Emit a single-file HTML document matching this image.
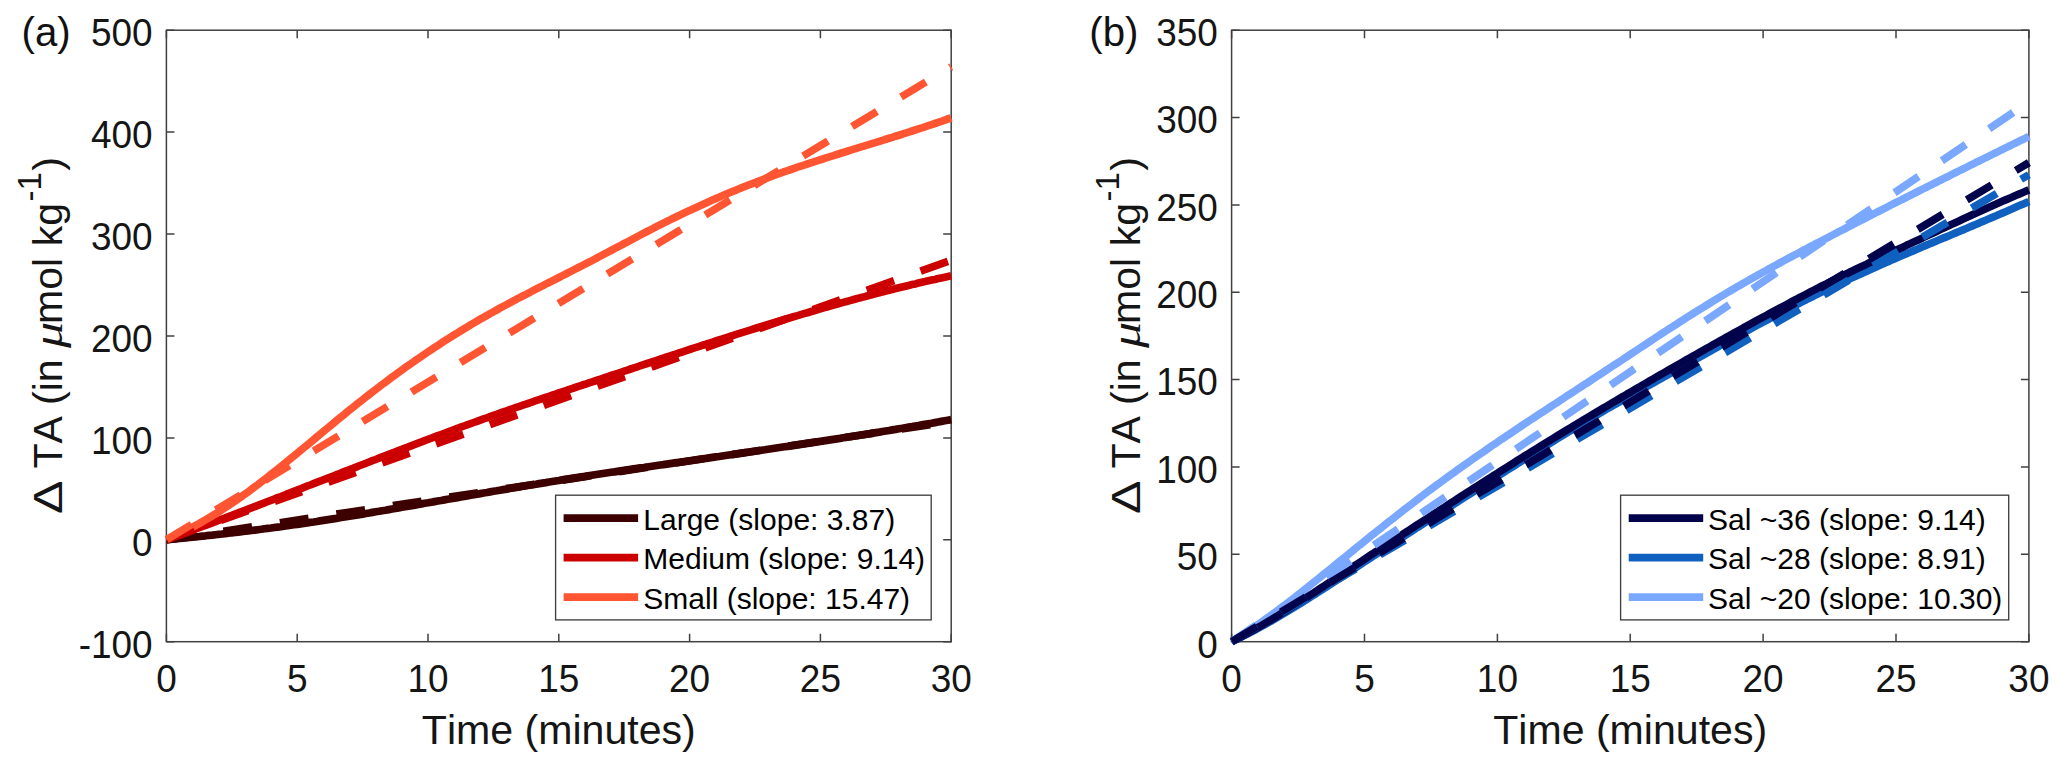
<!DOCTYPE html><html><head><meta charset="utf-8"><title>Delta TA over time</title>
<style>html,body{margin:0;padding:0;background:#fff}svg{display:block}text{font-family:"Liberation Sans", sans-serif;font-kerning:none}</style></head><body>
<svg width="2067" height="767" viewBox="0 0 2067 767">
<rect width="2067" height="767" fill="#fff"/>
<defs><clipPath id="ca"><rect x="162.4" y="29.2" width="792.3" height="616.5"/></clipPath><clipPath id="cb"><rect x="1227.6" y="29.2" width="804.8" height="616.5"/></clipPath></defs>
<rect x="166.4" y="30.2" width="784.8" height="611.5" fill="none" stroke="#404040" stroke-width="1.5"/>
<path d="M166.4 641.7v-8 M166.4 30.2v8 M297.2 641.7v-8 M297.2 30.2v8 M428.0 641.7v-8 M428.0 30.2v8 M558.8 641.7v-8 M558.8 30.2v8 M689.6 641.7v-8 M689.6 30.2v8 M820.4 641.7v-8 M820.4 30.2v8 M951.2 641.7v-8 M951.2 30.2v8 M166.4 641.7h8 M951.2 641.7h-8 M166.4 539.8h8 M951.2 539.8h-8 M166.4 437.9h8 M951.2 437.9h-8 M166.4 336.0h8 M951.2 336.0h-8 M166.4 234.0h8 M951.2 234.0h-8 M166.4 132.1h8 M951.2 132.1h-8 M166.4 30.2h8 M951.2 30.2h-8 " stroke="#404040" stroke-width="1.5" fill="none"/>
<text transform="translate(166.4 692.4) scale(0.975 1)" font-size="37.90" fill="#151515" text-anchor="middle">0</text>
<text transform="translate(297.2 692.4) scale(0.975 1)" font-size="37.90" fill="#151515" text-anchor="middle">5</text>
<text transform="translate(428.0 692.4) scale(0.975 1)" font-size="37.90" fill="#151515" text-anchor="middle">10</text>
<text transform="translate(558.8 692.4) scale(0.975 1)" font-size="37.90" fill="#151515" text-anchor="middle">15</text>
<text transform="translate(689.6 692.4) scale(0.975 1)" font-size="37.90" fill="#151515" text-anchor="middle">20</text>
<text transform="translate(820.4 692.4) scale(0.975 1)" font-size="37.90" fill="#151515" text-anchor="middle">25</text>
<text transform="translate(951.2 692.4) scale(0.975 1)" font-size="37.90" fill="#151515" text-anchor="middle">30</text>
<text transform="translate(152.6 657.5) scale(0.975 1)" font-size="37.90" fill="#151515" text-anchor="end">-100</text>
<text transform="translate(152.6 555.6) scale(0.975 1)" font-size="37.90" fill="#151515" text-anchor="end">0</text>
<text transform="translate(152.6 453.7) scale(0.975 1)" font-size="37.90" fill="#151515" text-anchor="end">100</text>
<text transform="translate(152.6 351.8) scale(0.975 1)" font-size="37.90" fill="#151515" text-anchor="end">200</text>
<text transform="translate(152.6 249.8) scale(0.975 1)" font-size="37.90" fill="#151515" text-anchor="end">300</text>
<text transform="translate(152.6 147.9) scale(0.975 1)" font-size="37.90" fill="#151515" text-anchor="end">400</text>
<text transform="translate(152.6 46.0) scale(0.975 1)" font-size="37.90" fill="#151515" text-anchor="end">500</text>
<text x="558.8" y="743.9" font-size="41.10" fill="#151515" text-anchor="middle">Time (minutes)</text>
<g transform="translate(61.7 0) rotate(-90)" font-size="41.10" fill="#151515"><text transform="translate(-514.1 0) scale(1.22 1)">Δ</text><text x="-468.5" y="0" >TA</text><text x="-405.0" y="0" >(in</text><text transform="translate(-348.0 0) scale(1.27 1)" style="font-style:italic;font-family:'Liberation Serif',serif">μ</text><text x="-324.0" y="0" >mol kg</text><text x="-201.5" y="0" font-size="32.88" dy="-20.6">-1</text><text x="-170.7" y="0" >)</text></g>
<text x="21.6" y="45.7" font-size="40.2" fill="#111">(a)</text>
<g clip-path="url(#ca)">
<path d="M166.4 539.8 L169.7 539.5 L172.9 539.1 L176.2 538.8 L179.5 538.5 L182.8 538.1 L186.0 537.8 L189.3 537.5 L192.6 537.1 L195.8 536.8 L199.1 536.5 L202.4 536.1 L205.6 535.8 L208.9 535.4 L212.2 535.1 L215.5 534.7 L218.7 534.3 L222.0 534.0 L225.3 533.6 L228.5 533.2 L231.8 532.8 L235.1 532.5 L238.3 532.1 L241.6 531.7 L244.9 531.3 L248.2 530.9 L251.4 530.5 L254.7 530.1 L258.0 529.7 L261.2 529.3 L264.5 528.8 L267.8 528.4 L271.0 528.0 L274.3 527.5 L277.6 527.1 L280.9 526.7 L284.1 526.2 L287.4 525.8 L290.7 525.3 L293.9 524.8 L297.2 524.4 L300.5 523.9 L303.7 523.4 L307.0 522.9 L310.3 522.4 L313.6 522.0 L316.8 521.5 L320.1 520.9 L323.4 520.4 L326.6 519.9 L329.9 519.4 L333.2 518.9 L336.4 518.4 L339.7 517.8 L343.0 517.3 L346.2 516.8 L349.5 516.2 L352.8 515.7 L356.1 515.2 L359.3 514.6 L362.6 514.1 L365.9 513.5 L369.1 513.0 L372.4 512.4 L375.7 511.8 L379.0 511.3 L382.2 510.7 L385.5 510.2 L388.8 509.6 L392.0 509.0 L395.3 508.5 L398.6 507.9 L401.8 507.3 L405.1 506.8 L408.4 506.2 L411.7 505.6 L414.9 505.1 L418.2 504.5 L421.5 503.9 L424.7 503.3 L428.0 502.8 L431.3 502.2 L434.5 501.6 L437.8 501.0 L441.1 500.5 L444.4 499.9 L447.6 499.3 L450.9 498.7 L454.2 498.2 L457.4 497.6 L460.7 497.0 L464.0 496.4 L467.2 495.9 L470.5 495.3 L473.8 494.7 L477.0 494.2 L480.3 493.6 L483.6 493.0 L486.9 492.5 L490.1 491.9 L493.4 491.3 L496.7 490.8 L499.9 490.2 L503.2 489.6 L506.5 489.1 L509.8 488.5 L513.0 488.0 L516.3 487.4 L519.6 486.9 L522.8 486.3 L526.1 485.8 L529.4 485.2 L532.6 484.7 L535.9 484.2 L539.2 483.6 L542.5 483.1 L545.7 482.6 L549.0 482.0 L552.3 481.5 L555.5 481.0 L558.8 480.5 L562.1 479.9 L565.3 479.4 L568.6 478.9 L571.9 478.4 L575.2 477.9 L578.4 477.4 L581.7 476.9 L585.0 476.4 L588.2 475.8 L591.5 475.3 L594.8 474.8 L598.0 474.3 L601.3 473.8 L604.6 473.3 L607.9 472.8 L611.1 472.3 L614.4 471.9 L617.7 471.4 L620.9 470.9 L624.2 470.4 L627.5 469.9 L630.7 469.4 L634.0 468.9 L637.3 468.4 L640.6 467.9 L643.8 467.5 L647.1 467.0 L650.4 466.5 L653.6 466.0 L656.9 465.5 L660.2 465.0 L663.4 464.6 L666.7 464.1 L670.0 463.6 L673.3 463.1 L676.5 462.6 L679.8 462.2 L683.1 461.7 L686.3 461.2 L689.6 460.7 L692.9 460.3 L696.1 459.8 L699.4 459.3 L702.7 458.8 L706.0 458.4 L709.2 457.9 L712.5 457.4 L715.8 456.9 L719.0 456.5 L722.3 456.0 L725.6 455.5 L728.8 455.0 L732.1 454.6 L735.4 454.1 L738.6 453.6 L741.9 453.1 L745.2 452.6 L748.5 452.2 L751.7 451.7 L755.0 451.2 L758.3 450.7 L761.5 450.2 L764.8 449.8 L768.1 449.3 L771.4 448.8 L774.6 448.3 L777.9 447.8 L781.2 447.3 L784.4 446.8 L787.7 446.4 L791.0 445.9 L794.2 445.4 L797.5 444.9 L800.8 444.4 L804.0 443.9 L807.3 443.4 L810.6 442.9 L813.9 442.4 L817.1 441.9 L820.4 441.4 L823.7 440.9 L826.9 440.4 L830.2 439.9 L833.5 439.4 L836.8 438.9 L840.0 438.4 L843.3 437.8 L846.6 437.3 L849.8 436.8 L853.1 436.3 L856.4 435.8 L859.6 435.3 L862.9 434.7 L866.2 434.2 L869.5 433.7 L872.7 433.1 L876.0 432.6 L879.3 432.1 L882.5 431.5 L885.8 431.0 L889.1 430.5 L892.3 429.9 L895.6 429.4 L898.9 428.8 L902.2 428.3 L905.4 427.7 L908.7 427.1 L912.0 426.6 L915.2 426.0 L918.5 425.5 L921.8 424.9 L925.0 424.3 L928.3 423.7 L931.6 423.2 L934.9 422.6 L938.1 422.0 L941.4 421.4 L944.7 420.8 L947.9 420.2 L951.2 419.6" fill="none" stroke="#3d0000" stroke-width="7.70" stroke-linejoin="round"/>
<path d="M166.4 539.8 L169.7 538.6 L172.9 537.4 L176.2 536.2 L179.5 535.0 L182.8 533.8 L186.0 532.6 L189.3 531.4 L192.6 530.2 L195.8 529.0 L199.1 527.7 L202.4 526.5 L205.6 525.3 L208.9 524.1 L212.2 522.8 L215.5 521.6 L218.7 520.3 L222.0 519.1 L225.3 517.9 L228.5 516.6 L231.8 515.4 L235.1 514.1 L238.3 512.9 L241.6 511.6 L244.9 510.4 L248.2 509.1 L251.4 507.9 L254.7 506.6 L258.0 505.3 L261.2 504.1 L264.5 502.8 L267.8 501.5 L271.0 500.3 L274.3 499.0 L277.6 497.7 L280.9 496.5 L284.1 495.2 L287.4 493.9 L290.7 492.6 L293.9 491.4 L297.2 490.1 L300.5 488.8 L303.7 487.5 L307.0 486.2 L310.3 485.0 L313.6 483.7 L316.8 482.4 L320.1 481.1 L323.4 479.9 L326.6 478.6 L329.9 477.3 L333.2 476.0 L336.4 474.7 L339.7 473.5 L343.0 472.2 L346.2 470.9 L349.5 469.6 L352.8 468.4 L356.1 467.1 L359.3 465.8 L362.6 464.5 L365.9 463.3 L369.1 462.0 L372.4 460.7 L375.7 459.5 L379.0 458.2 L382.2 456.9 L385.5 455.7 L388.8 454.4 L392.0 453.1 L395.3 451.9 L398.6 450.6 L401.8 449.4 L405.1 448.1 L408.4 446.9 L411.7 445.6 L414.9 444.4 L418.2 443.1 L421.5 441.9 L424.7 440.6 L428.0 439.4 L431.3 438.2 L434.5 436.9 L437.8 435.7 L441.1 434.5 L444.4 433.3 L447.6 432.1 L450.9 430.8 L454.2 429.6 L457.4 428.4 L460.7 427.2 L464.0 426.0 L467.2 424.8 L470.5 423.7 L473.8 422.5 L477.0 421.3 L480.3 420.1 L483.6 418.9 L486.9 417.8 L490.1 416.6 L493.4 415.4 L496.7 414.3 L499.9 413.1 L503.2 412.0 L506.5 410.9 L509.8 409.7 L513.0 408.6 L516.3 407.4 L519.6 406.3 L522.8 405.2 L526.1 404.1 L529.4 403.0 L532.6 401.8 L535.9 400.7 L539.2 399.6 L542.5 398.5 L545.7 397.4 L549.0 396.3 L552.3 395.2 L555.5 394.1 L558.8 393.0 L562.1 391.9 L565.3 390.8 L568.6 389.7 L571.9 388.6 L575.2 387.5 L578.4 386.4 L581.7 385.3 L585.0 384.3 L588.2 383.2 L591.5 382.1 L594.8 381.0 L598.0 379.9 L601.3 378.8 L604.6 377.7 L607.9 376.6 L611.1 375.5 L614.4 374.4 L617.7 373.4 L620.9 372.3 L624.2 371.2 L627.5 370.1 L630.7 369.0 L634.0 367.9 L637.3 366.8 L640.6 365.7 L643.8 364.6 L647.1 363.5 L650.4 362.5 L653.6 361.4 L656.9 360.3 L660.2 359.2 L663.4 358.1 L666.7 357.0 L670.0 356.0 L673.3 354.9 L676.5 353.8 L679.8 352.7 L683.1 351.7 L686.3 350.6 L689.6 349.5 L692.9 348.4 L696.1 347.4 L699.4 346.3 L702.7 345.2 L706.0 344.2 L709.2 343.1 L712.5 342.1 L715.8 341.0 L719.0 339.9 L722.3 338.9 L725.6 337.8 L728.8 336.8 L732.1 335.8 L735.4 334.7 L738.6 333.7 L741.9 332.6 L745.2 331.6 L748.5 330.6 L751.7 329.6 L755.0 328.5 L758.3 327.5 L761.5 326.5 L764.8 325.5 L768.1 324.5 L771.4 323.5 L774.6 322.5 L777.9 321.5 L781.2 320.5 L784.4 319.5 L787.7 318.5 L791.0 317.5 L794.2 316.5 L797.5 315.6 L800.8 314.6 L804.0 313.6 L807.3 312.7 L810.6 311.7 L813.9 310.8 L817.1 309.8 L820.4 308.9 L823.7 307.9 L826.9 307.0 L830.2 306.1 L833.5 305.1 L836.8 304.2 L840.0 303.3 L843.3 302.4 L846.6 301.5 L849.8 300.6 L853.1 299.7 L856.4 298.8 L859.6 297.9 L862.9 297.1 L866.2 296.2 L869.5 295.3 L872.7 294.5 L876.0 293.6 L879.3 292.8 L882.5 291.9 L885.8 291.1 L889.1 290.3 L892.3 289.4 L895.6 288.6 L898.9 287.8 L902.2 287.0 L905.4 286.2 L908.7 285.4 L912.0 284.6 L915.2 283.9 L918.5 283.1 L921.8 282.3 L925.0 281.6 L928.3 280.8 L931.6 280.1 L934.9 279.4 L938.1 278.6 L941.4 277.9 L944.7 277.2 L947.9 276.5 L951.2 275.8" fill="none" stroke="#cc0000" stroke-width="7.70" stroke-linejoin="round"/>
<path d="M166.4 539.8 L169.7 538.4 L172.9 536.9 L176.2 535.4 L179.5 533.8 L182.8 532.2 L186.0 530.6 L189.3 528.9 L192.6 527.2 L195.8 525.4 L199.1 523.6 L202.4 521.7 L205.6 519.8 L208.9 517.9 L212.2 515.9 L215.5 513.9 L218.7 511.9 L222.0 509.8 L225.3 507.6 L228.5 505.5 L231.8 503.3 L235.1 501.0 L238.3 498.8 L241.6 496.5 L244.9 494.1 L248.2 491.8 L251.4 489.4 L254.7 486.9 L258.0 484.5 L261.2 482.0 L264.5 479.5 L267.8 476.9 L271.0 474.4 L274.3 471.8 L277.6 469.2 L280.9 466.6 L284.1 463.9 L287.4 461.3 L290.7 458.6 L293.9 456.0 L297.2 453.3 L300.5 450.6 L303.7 447.9 L307.0 445.2 L310.3 442.5 L313.6 439.7 L316.8 437.0 L320.1 434.3 L323.4 431.6 L326.6 428.9 L329.9 426.2 L333.2 423.5 L336.4 420.8 L339.7 418.1 L343.0 415.4 L346.2 412.8 L349.5 410.1 L352.8 407.5 L356.1 404.8 L359.3 402.2 L362.6 399.7 L365.9 397.1 L369.1 394.6 L372.4 392.0 L375.7 389.5 L379.0 387.0 L382.2 384.5 L385.5 382.1 L388.8 379.6 L392.0 377.2 L395.3 374.8 L398.6 372.4 L401.8 370.1 L405.1 367.7 L408.4 365.4 L411.7 363.1 L414.9 360.8 L418.2 358.6 L421.5 356.3 L424.7 354.1 L428.0 351.9 L431.3 349.7 L434.5 347.5 L437.8 345.4 L441.1 343.2 L444.4 341.1 L447.6 339.0 L450.9 336.9 L454.2 334.9 L457.4 332.9 L460.7 330.9 L464.0 328.9 L467.2 326.9 L470.5 324.9 L473.8 323.0 L477.0 321.1 L480.3 319.2 L483.6 317.3 L486.9 315.5 L490.1 313.6 L493.4 311.8 L496.7 310.0 L499.9 308.2 L503.2 306.4 L506.5 304.7 L509.8 302.9 L513.0 301.2 L516.3 299.4 L519.6 297.7 L522.8 296.0 L526.1 294.3 L529.4 292.6 L532.6 290.9 L535.9 289.2 L539.2 287.5 L542.5 285.9 L545.7 284.2 L549.0 282.5 L552.3 280.8 L555.5 279.2 L558.8 277.5 L562.1 275.8 L565.3 274.2 L568.6 272.5 L571.9 270.9 L575.2 269.2 L578.4 267.5 L581.7 265.8 L585.0 264.1 L588.2 262.5 L591.5 260.8 L594.8 259.1 L598.0 257.3 L601.3 255.6 L604.6 253.9 L607.9 252.2 L611.1 250.5 L614.4 248.7 L617.7 247.0 L620.9 245.3 L624.2 243.5 L627.5 241.8 L630.7 240.1 L634.0 238.3 L637.3 236.6 L640.6 234.9 L643.8 233.2 L647.1 231.5 L650.4 229.8 L653.6 228.1 L656.9 226.4 L660.2 224.8 L663.4 223.1 L666.7 221.5 L670.0 219.9 L673.3 218.3 L676.5 216.7 L679.8 215.1 L683.1 213.5 L686.3 212.0 L689.6 210.4 L692.9 208.9 L696.1 207.4 L699.4 205.9 L702.7 204.4 L706.0 202.9 L709.2 201.5 L712.5 200.0 L715.8 198.6 L719.0 197.2 L722.3 195.8 L725.6 194.4 L728.8 193.0 L732.1 191.6 L735.4 190.3 L738.6 189.0 L741.9 187.6 L745.2 186.3 L748.5 185.0 L751.7 183.8 L755.0 182.5 L758.3 181.3 L761.5 180.0 L764.8 178.8 L768.1 177.6 L771.4 176.4 L774.6 175.2 L777.9 174.0 L781.2 172.9 L784.4 171.7 L787.7 170.6 L791.0 169.5 L794.2 168.4 L797.5 167.2 L800.8 166.1 L804.0 165.1 L807.3 164.0 L810.6 162.9 L813.9 161.8 L817.1 160.8 L820.4 159.7 L823.7 158.7 L826.9 157.6 L830.2 156.6 L833.5 155.6 L836.8 154.5 L840.0 153.5 L843.3 152.5 L846.6 151.5 L849.8 150.4 L853.1 149.4 L856.4 148.4 L859.6 147.4 L862.9 146.4 L866.2 145.4 L869.5 144.4 L872.7 143.4 L876.0 142.4 L879.3 141.3 L882.5 140.3 L885.8 139.3 L889.1 138.3 L892.3 137.3 L895.6 136.2 L898.9 135.2 L902.2 134.2 L905.4 133.1 L908.7 132.1 L912.0 131.0 L915.2 130.0 L918.5 128.9 L921.8 127.9 L925.0 126.8 L928.3 125.7 L931.6 124.6 L934.9 123.5 L938.1 122.4 L941.4 121.3 L944.7 120.1 L947.9 119.0 L951.2 117.8" fill="none" stroke="#ff5533" stroke-width="7.70" stroke-linejoin="round"/>
<path d="M166.4 539.8 L951.2 421.5" fill="none" stroke="#3d0000" stroke-width="7.70" stroke-dasharray="29 28.15" stroke-dashoffset="-0.5"/>
<path d="M166.4 539.8 L951.2 260.3" fill="none" stroke="#cc0000" stroke-width="7.70" stroke-dasharray="29 28.15" stroke-dashoffset="-0.5"/>
<path d="M166.4 539.8 L951.2 66.8" fill="none" stroke="#ff5533" stroke-width="7.70" stroke-dasharray="29 28.15" stroke-dashoffset="-0.5"/>
</g>
<rect x="555.6" y="495.2" width="375.6" height="124.7" fill="#fff" stroke="#404040" stroke-width="1.35"/>
<path d="M563.6 518.2H638.1" stroke="#3d0000" stroke-width="7.70"/>
<text x="643.3" y="529.8" font-size="30.00" fill="#000">Large (slope: 3.87)</text>
<path d="M563.6 557.7H638.1" stroke="#cc0000" stroke-width="7.70"/>
<text x="643.3" y="569.3" font-size="30.00" fill="#000">Medium (slope: 9.14)</text>
<path d="M563.6 597.1H638.1" stroke="#ff5533" stroke-width="7.70"/>
<text x="643.3" y="608.7" font-size="30.00" fill="#000">Small (slope: 15.47)</text>
<rect x="1231.6" y="30.2" width="797.3" height="611.5" fill="none" stroke="#404040" stroke-width="1.5"/>
<path d="M1231.6 641.7v-8 M1231.6 30.2v8 M1364.5 641.7v-8 M1364.5 30.2v8 M1497.4 641.7v-8 M1497.4 30.2v8 M1630.2 641.7v-8 M1630.2 30.2v8 M1763.1 641.7v-8 M1763.1 30.2v8 M1896.0 641.7v-8 M1896.0 30.2v8 M2028.9 641.7v-8 M2028.9 30.2v8 M1231.6 641.7h8 M2028.9 641.7h-8 M1231.6 554.3h8 M2028.9 554.3h-8 M1231.6 467.0h8 M2028.9 467.0h-8 M1231.6 379.6h8 M2028.9 379.6h-8 M1231.6 292.3h8 M2028.9 292.3h-8 M1231.6 204.9h8 M2028.9 204.9h-8 M1231.6 117.6h8 M2028.9 117.6h-8 M1231.6 30.2h8 M2028.9 30.2h-8 " stroke="#404040" stroke-width="1.5" fill="none"/>
<text transform="translate(1231.6 692.4) scale(0.975 1)" font-size="37.90" fill="#151515" text-anchor="middle">0</text>
<text transform="translate(1364.5 692.4) scale(0.975 1)" font-size="37.90" fill="#151515" text-anchor="middle">5</text>
<text transform="translate(1497.4 692.4) scale(0.975 1)" font-size="37.90" fill="#151515" text-anchor="middle">10</text>
<text transform="translate(1630.2 692.4) scale(0.975 1)" font-size="37.90" fill="#151515" text-anchor="middle">15</text>
<text transform="translate(1763.1 692.4) scale(0.975 1)" font-size="37.90" fill="#151515" text-anchor="middle">20</text>
<text transform="translate(1896.0 692.4) scale(0.975 1)" font-size="37.90" fill="#151515" text-anchor="middle">25</text>
<text transform="translate(2028.9 692.4) scale(0.975 1)" font-size="37.90" fill="#151515" text-anchor="middle">30</text>
<text transform="translate(1217.8 657.5) scale(0.975 1)" font-size="37.90" fill="#151515" text-anchor="end">0</text>
<text transform="translate(1217.8 570.1) scale(0.975 1)" font-size="37.90" fill="#151515" text-anchor="end">50</text>
<text transform="translate(1217.8 482.8) scale(0.975 1)" font-size="37.90" fill="#151515" text-anchor="end">100</text>
<text transform="translate(1217.8 395.4) scale(0.975 1)" font-size="37.90" fill="#151515" text-anchor="end">150</text>
<text transform="translate(1217.8 308.1) scale(0.975 1)" font-size="37.90" fill="#151515" text-anchor="end">200</text>
<text transform="translate(1217.8 220.7) scale(0.975 1)" font-size="37.90" fill="#151515" text-anchor="end">250</text>
<text transform="translate(1217.8 133.4) scale(0.975 1)" font-size="37.90" fill="#151515" text-anchor="end">300</text>
<text transform="translate(1217.8 46.0) scale(0.975 1)" font-size="37.90" fill="#151515" text-anchor="end">350</text>
<text x="1630.2" y="743.9" font-size="41.10" fill="#151515" text-anchor="middle">Time (minutes)</text>
<g transform="translate(1139.5 0) rotate(-90)" font-size="41.10" fill="#151515"><text transform="translate(-514.1 0) scale(1.22 1)">Δ</text><text x="-468.5" y="0" >TA</text><text x="-405.0" y="0" >(in</text><text transform="translate(-348.0 0) scale(1.27 1)" style="font-style:italic;font-family:'Liberation Serif',serif">μ</text><text x="-324.0" y="0" >mol kg</text><text x="-201.5" y="0" font-size="32.88" dy="-20.6">-1</text><text x="-170.7" y="0" >)</text></g>
<text x="1089.3" y="45.7" font-size="40.2" fill="#111">(b)</text>
<g clip-path="url(#cb)">
<path d="M1231.6 641.7 L1234.9 639.7 L1238.2 637.6 L1241.6 635.5 L1244.9 633.3 L1248.2 631.2 L1251.5 628.9 L1254.9 626.7 L1258.2 624.4 L1261.5 622.1 L1264.8 619.7 L1268.1 617.3 L1271.5 614.9 L1274.8 612.5 L1278.1 610.0 L1281.4 607.5 L1284.8 605.0 L1288.1 602.5 L1291.4 600.0 L1294.7 597.4 L1298.0 594.8 L1301.4 592.2 L1304.7 589.6 L1308.0 586.9 L1311.3 584.3 L1314.7 581.6 L1318.0 579.0 L1321.3 576.3 L1324.6 573.6 L1327.9 570.9 L1331.3 568.2 L1334.6 565.5 L1337.9 562.8 L1341.2 560.1 L1344.6 557.4 L1347.9 554.7 L1351.2 552.0 L1354.5 549.2 L1357.8 546.6 L1361.2 543.9 L1364.5 541.2 L1367.8 538.5 L1371.1 535.8 L1374.4 533.2 L1377.8 530.5 L1381.1 527.9 L1384.4 525.2 L1387.7 522.6 L1391.1 520.0 L1394.4 517.4 L1397.7 514.8 L1401.0 512.2 L1404.3 509.6 L1407.7 507.0 L1411.0 504.5 L1414.3 501.9 L1417.6 499.4 L1421.0 496.8 L1424.3 494.3 L1427.6 491.8 L1430.9 489.4 L1434.2 486.9 L1437.6 484.4 L1440.9 482.0 L1444.2 479.5 L1447.5 477.1 L1450.9 474.7 L1454.2 472.3 L1457.5 469.9 L1460.8 467.6 L1464.1 465.2 L1467.5 462.9 L1470.8 460.5 L1474.1 458.2 L1477.4 455.9 L1480.8 453.6 L1484.1 451.3 L1487.4 449.0 L1490.7 446.7 L1494.0 444.4 L1497.4 442.2 L1500.7 439.9 L1504.0 437.7 L1507.3 435.4 L1510.7 433.2 L1514.0 431.0 L1517.3 428.8 L1520.6 426.5 L1523.9 424.3 L1527.3 422.1 L1530.6 419.9 L1533.9 417.7 L1537.2 415.5 L1540.6 413.3 L1543.9 411.2 L1547.2 409.0 L1550.5 406.8 L1553.8 404.6 L1557.2 402.4 L1560.5 400.3 L1563.8 398.1 L1567.1 395.9 L1570.5 393.8 L1573.8 391.6 L1577.1 389.4 L1580.4 387.2 L1583.7 385.1 L1587.1 382.9 L1590.4 380.7 L1593.7 378.6 L1597.0 376.4 L1600.4 374.2 L1603.7 372.0 L1607.0 369.8 L1610.3 367.6 L1613.6 365.4 L1617.0 363.3 L1620.3 361.1 L1623.6 358.9 L1626.9 356.7 L1630.2 354.5 L1633.6 352.3 L1636.9 350.1 L1640.2 347.9 L1643.5 345.7 L1646.9 343.5 L1650.2 341.3 L1653.5 339.1 L1656.8 336.9 L1660.1 334.8 L1663.5 332.6 L1666.8 330.4 L1670.1 328.3 L1673.4 326.1 L1676.8 324.0 L1680.1 321.8 L1683.4 319.7 L1686.7 317.6 L1690.0 315.5 L1693.4 313.4 L1696.7 311.3 L1700.0 309.2 L1703.3 307.2 L1706.7 305.1 L1710.0 303.1 L1713.3 301.0 L1716.6 299.0 L1719.9 297.0 L1723.3 295.0 L1726.6 293.0 L1729.9 291.1 L1733.2 289.1 L1736.6 287.2 L1739.9 285.3 L1743.2 283.4 L1746.5 281.5 L1749.8 279.6 L1753.2 277.7 L1756.5 275.8 L1759.8 274.0 L1763.1 272.1 L1766.5 270.3 L1769.8 268.4 L1773.1 266.6 L1776.4 264.8 L1779.7 263.0 L1783.1 261.2 L1786.4 259.4 L1789.7 257.6 L1793.0 255.8 L1796.4 254.1 L1799.7 252.3 L1803.0 250.5 L1806.3 248.8 L1809.6 247.0 L1813.0 245.3 L1816.3 243.5 L1819.6 241.8 L1822.9 240.1 L1826.3 238.3 L1829.6 236.6 L1832.9 234.9 L1836.2 233.2 L1839.5 231.4 L1842.9 229.7 L1846.2 228.0 L1849.5 226.3 L1852.8 224.6 L1856.2 222.9 L1859.5 221.2 L1862.8 219.5 L1866.1 217.8 L1869.4 216.1 L1872.8 214.4 L1876.1 212.7 L1879.4 211.0 L1882.7 209.3 L1886.1 207.6 L1889.4 205.9 L1892.7 204.2 L1896.0 202.5 L1899.3 200.9 L1902.7 199.2 L1906.0 197.5 L1909.3 195.8 L1912.6 194.2 L1915.9 192.5 L1919.3 190.8 L1922.6 189.1 L1925.9 187.5 L1929.2 185.8 L1932.6 184.2 L1935.9 182.5 L1939.2 180.8 L1942.5 179.2 L1945.8 177.5 L1949.2 175.9 L1952.5 174.2 L1955.8 172.5 L1959.1 170.9 L1962.5 169.2 L1965.8 167.6 L1969.1 165.9 L1972.4 164.3 L1975.7 162.6 L1979.1 161.0 L1982.4 159.4 L1985.7 157.7 L1989.0 156.1 L1992.4 154.4 L1995.7 152.8 L1999.0 151.1 L2002.3 149.5 L2005.6 147.9 L2009.0 146.2 L2012.3 144.6 L2015.6 143.0 L2018.9 141.3 L2022.3 139.7 L2025.6 138.1 L2028.9 136.4" fill="none" stroke="#7aa8ff" stroke-width="7.70" stroke-linejoin="round"/>
<path d="M1231.6 641.7 L1234.9 640.1 L1238.2 638.5 L1241.6 636.9 L1244.9 635.2 L1248.2 633.5 L1251.5 631.8 L1254.9 630.0 L1258.2 628.2 L1261.5 626.4 L1264.8 624.6 L1268.1 622.7 L1271.5 620.8 L1274.8 618.9 L1278.1 617.0 L1281.4 615.0 L1284.8 613.0 L1288.1 611.0 L1291.4 609.0 L1294.7 607.0 L1298.0 604.9 L1301.4 602.9 L1304.7 600.8 L1308.0 598.7 L1311.3 596.6 L1314.7 594.5 L1318.0 592.3 L1321.3 590.2 L1324.6 588.0 L1327.9 585.9 L1331.3 583.7 L1334.6 581.6 L1337.9 579.4 L1341.2 577.2 L1344.6 575.0 L1347.9 572.8 L1351.2 570.7 L1354.5 568.5 L1357.8 566.3 L1361.2 564.1 L1364.5 561.9 L1367.8 559.8 L1371.1 557.6 L1374.4 555.4 L1377.8 553.3 L1381.1 551.1 L1384.4 548.9 L1387.7 546.8 L1391.1 544.6 L1394.4 542.5 L1397.7 540.3 L1401.0 538.1 L1404.3 536.0 L1407.7 533.8 L1411.0 531.7 L1414.3 529.6 L1417.6 527.4 L1421.0 525.3 L1424.3 523.1 L1427.6 521.0 L1430.9 518.9 L1434.2 516.7 L1437.6 514.6 L1440.9 512.5 L1444.2 510.3 L1447.5 508.2 L1450.9 506.1 L1454.2 504.0 L1457.5 501.8 L1460.8 499.7 L1464.1 497.6 L1467.5 495.5 L1470.8 493.4 L1474.1 491.2 L1477.4 489.1 L1480.8 487.0 L1484.1 484.9 L1487.4 482.8 L1490.7 480.7 L1494.0 478.5 L1497.4 476.4 L1500.7 474.3 L1504.0 472.2 L1507.3 470.1 L1510.7 468.0 L1514.0 465.9 L1517.3 463.8 L1520.6 461.7 L1523.9 459.6 L1527.3 457.5 L1530.6 455.4 L1533.9 453.3 L1537.2 451.2 L1540.6 449.1 L1543.9 447.1 L1547.2 445.0 L1550.5 442.9 L1553.8 440.9 L1557.2 438.8 L1560.5 436.8 L1563.8 434.7 L1567.1 432.7 L1570.5 430.7 L1573.8 428.7 L1577.1 426.7 L1580.4 424.7 L1583.7 422.7 L1587.1 420.7 L1590.4 418.7 L1593.7 416.8 L1597.0 414.8 L1600.4 412.9 L1603.7 410.9 L1607.0 409.0 L1610.3 407.1 L1613.6 405.2 L1617.0 403.3 L1620.3 401.4 L1623.6 399.5 L1626.9 397.6 L1630.2 395.8 L1633.6 393.9 L1636.9 392.0 L1640.2 390.2 L1643.5 388.3 L1646.9 386.5 L1650.2 384.6 L1653.5 382.8 L1656.8 380.9 L1660.1 379.1 L1663.5 377.2 L1666.8 375.4 L1670.1 373.5 L1673.4 371.7 L1676.8 369.8 L1680.1 368.0 L1683.4 366.1 L1686.7 364.3 L1690.0 362.4 L1693.4 360.6 L1696.7 358.7 L1700.0 356.8 L1703.3 355.0 L1706.7 353.1 L1710.0 351.3 L1713.3 349.4 L1716.6 347.6 L1719.9 345.7 L1723.3 343.9 L1726.6 342.0 L1729.9 340.2 L1733.2 338.4 L1736.6 336.5 L1739.9 334.7 L1743.2 332.9 L1746.5 331.1 L1749.8 329.3 L1753.2 327.4 L1756.5 325.6 L1759.8 323.9 L1763.1 322.1 L1766.5 320.3 L1769.8 318.5 L1773.1 316.8 L1776.4 315.0 L1779.7 313.3 L1783.1 311.5 L1786.4 309.8 L1789.7 308.1 L1793.0 306.4 L1796.4 304.7 L1799.7 303.0 L1803.0 301.3 L1806.3 299.7 L1809.6 298.0 L1813.0 296.4 L1816.3 294.7 L1819.6 293.1 L1822.9 291.5 L1826.3 289.9 L1829.6 288.3 L1832.9 286.7 L1836.2 285.2 L1839.5 283.6 L1842.9 282.0 L1846.2 280.5 L1849.5 279.0 L1852.8 277.4 L1856.2 275.9 L1859.5 274.4 L1862.8 272.9 L1866.1 271.4 L1869.4 269.9 L1872.8 268.4 L1876.1 266.9 L1879.4 265.5 L1882.7 264.0 L1886.1 262.5 L1889.4 261.1 L1892.7 259.6 L1896.0 258.2 L1899.3 256.8 L1902.7 255.3 L1906.0 253.9 L1909.3 252.5 L1912.6 251.1 L1915.9 249.7 L1919.3 248.3 L1922.6 246.8 L1925.9 245.4 L1929.2 244.0 L1932.6 242.6 L1935.9 241.2 L1939.2 239.8 L1942.5 238.4 L1945.8 237.1 L1949.2 235.7 L1952.5 234.3 L1955.8 232.9 L1959.1 231.5 L1962.5 230.1 L1965.8 228.7 L1969.1 227.3 L1972.4 225.9 L1975.7 224.5 L1979.1 223.1 L1982.4 221.6 L1985.7 220.2 L1989.0 218.8 L1992.4 217.4 L1995.7 216.0 L1999.0 214.5 L2002.3 213.1 L2005.6 211.7 L2009.0 210.2 L2012.3 208.8 L2015.6 207.3 L2018.9 205.8 L2022.3 204.4 L2025.6 202.9 L2028.9 201.4" fill="none" stroke="#1060c0" stroke-width="7.70" stroke-linejoin="round"/>
<path d="M1231.6 641.7 L1234.9 640.0 L1238.2 638.3 L1241.6 636.6 L1244.9 634.8 L1248.2 633.0 L1251.5 631.1 L1254.9 629.3 L1258.2 627.4 L1261.5 625.5 L1264.8 623.5 L1268.1 621.6 L1271.5 619.6 L1274.8 617.6 L1278.1 615.6 L1281.4 613.5 L1284.8 611.4 L1288.1 609.4 L1291.4 607.3 L1294.7 605.2 L1298.0 603.0 L1301.4 600.9 L1304.7 598.7 L1308.0 596.6 L1311.3 594.4 L1314.7 592.2 L1318.0 590.0 L1321.3 587.8 L1324.6 585.6 L1327.9 583.4 L1331.3 581.2 L1334.6 579.0 L1337.9 576.8 L1341.2 574.6 L1344.6 572.4 L1347.9 570.2 L1351.2 568.0 L1354.5 565.8 L1357.8 563.6 L1361.2 561.4 L1364.5 559.2 L1367.8 557.0 L1371.1 554.8 L1374.4 552.6 L1377.8 550.5 L1381.1 548.3 L1384.4 546.1 L1387.7 544.0 L1391.1 541.8 L1394.4 539.7 L1397.7 537.5 L1401.0 535.4 L1404.3 533.2 L1407.7 531.1 L1411.0 528.9 L1414.3 526.7 L1417.6 524.6 L1421.0 522.4 L1424.3 520.3 L1427.6 518.1 L1430.9 516.0 L1434.2 513.8 L1437.6 511.7 L1440.9 509.5 L1444.2 507.4 L1447.5 505.2 L1450.9 503.0 L1454.2 500.9 L1457.5 498.7 L1460.8 496.6 L1464.1 494.5 L1467.5 492.3 L1470.8 490.2 L1474.1 488.0 L1477.4 485.9 L1480.8 483.8 L1484.1 481.6 L1487.4 479.5 L1490.7 477.4 L1494.0 475.3 L1497.4 473.2 L1500.7 471.1 L1504.0 469.0 L1507.3 466.9 L1510.7 464.8 L1514.0 462.7 L1517.3 460.6 L1520.6 458.5 L1523.9 456.4 L1527.3 454.4 L1530.6 452.3 L1533.9 450.2 L1537.2 448.2 L1540.6 446.1 L1543.9 444.1 L1547.2 442.0 L1550.5 440.0 L1553.8 438.0 L1557.2 435.9 L1560.5 433.9 L1563.8 431.9 L1567.1 429.9 L1570.5 427.9 L1573.8 425.8 L1577.1 423.8 L1580.4 421.8 L1583.7 419.8 L1587.1 417.8 L1590.4 415.9 L1593.7 413.9 L1597.0 411.9 L1600.4 409.9 L1603.7 407.9 L1607.0 406.0 L1610.3 404.0 L1613.6 402.0 L1617.0 400.1 L1620.3 398.1 L1623.6 396.2 L1626.9 394.2 L1630.2 392.3 L1633.6 390.3 L1636.9 388.4 L1640.2 386.5 L1643.5 384.5 L1646.9 382.6 L1650.2 380.7 L1653.5 378.8 L1656.8 376.8 L1660.1 374.9 L1663.5 373.0 L1666.8 371.1 L1670.1 369.2 L1673.4 367.3 L1676.8 365.4 L1680.1 363.5 L1683.4 361.6 L1686.7 359.7 L1690.0 357.8 L1693.4 355.9 L1696.7 354.1 L1700.0 352.2 L1703.3 350.3 L1706.7 348.4 L1710.0 346.6 L1713.3 344.7 L1716.6 342.8 L1719.9 341.0 L1723.3 339.1 L1726.6 337.2 L1729.9 335.4 L1733.2 333.5 L1736.6 331.7 L1739.9 329.9 L1743.2 328.0 L1746.5 326.2 L1749.8 324.3 L1753.2 322.5 L1756.5 320.7 L1759.8 318.9 L1763.1 317.1 L1766.5 315.3 L1769.8 313.5 L1773.1 311.7 L1776.4 309.9 L1779.7 308.1 L1783.1 306.3 L1786.4 304.6 L1789.7 302.8 L1793.0 301.0 L1796.4 299.3 L1799.7 297.5 L1803.0 295.8 L1806.3 294.1 L1809.6 292.3 L1813.0 290.6 L1816.3 288.9 L1819.6 287.2 L1822.9 285.5 L1826.3 283.9 L1829.6 282.2 L1832.9 280.5 L1836.2 278.9 L1839.5 277.2 L1842.9 275.6 L1846.2 274.0 L1849.5 272.3 L1852.8 270.7 L1856.2 269.1 L1859.5 267.5 L1862.8 265.9 L1866.1 264.4 L1869.4 262.8 L1872.8 261.2 L1876.1 259.6 L1879.4 258.1 L1882.7 256.5 L1886.1 254.9 L1889.4 253.4 L1892.7 251.8 L1896.0 250.3 L1899.3 248.7 L1902.7 247.2 L1906.0 245.6 L1909.3 244.1 L1912.6 242.5 L1915.9 241.0 L1919.3 239.4 L1922.6 237.9 L1925.9 236.3 L1929.2 234.8 L1932.6 233.2 L1935.9 231.7 L1939.2 230.1 L1942.5 228.6 L1945.8 227.0 L1949.2 225.5 L1952.5 223.9 L1955.8 222.4 L1959.1 220.9 L1962.5 219.3 L1965.8 217.8 L1969.1 216.3 L1972.4 214.7 L1975.7 213.2 L1979.1 211.7 L1982.4 210.2 L1985.7 208.7 L1989.0 207.2 L1992.4 205.7 L1995.7 204.3 L1999.0 202.8 L2002.3 201.3 L2005.6 199.9 L2009.0 198.4 L2012.3 197.0 L2015.6 195.5 L2018.9 194.1 L2022.3 192.7 L2025.6 191.3 L2028.9 189.9" fill="none" stroke="#03034b" stroke-width="7.70" stroke-linejoin="round"/>
<path d="M1231.6 641.7 L2028.9 101.8" fill="none" stroke="#7aa8ff" stroke-width="7.70" stroke-dasharray="29 28.15" stroke-dashoffset="-0.5"/>
<path d="M1231.6 641.7 L2028.9 174.7" fill="none" stroke="#1060c0" stroke-width="7.70" stroke-dasharray="29 28.15" stroke-dashoffset="-0.5"/>
<path d="M1231.6 641.7 L2028.9 162.6" fill="none" stroke="#03034b" stroke-width="7.70" stroke-dasharray="29 28.15" stroke-dashoffset="-0.5"/>
</g>
<rect x="1620.6" y="495.2" width="388.1" height="124.7" fill="#fff" stroke="#404040" stroke-width="1.35"/>
<path d="M1628.7 518.2H1703.2" stroke="#03034b" stroke-width="7.70"/>
<text x="1708.0" y="529.8" font-size="30.00" fill="#000">Sal ~36 (slope: 9.14)</text>
<path d="M1628.7 557.7H1703.2" stroke="#1060c0" stroke-width="7.70"/>
<text x="1708.0" y="569.3" font-size="30.00" fill="#000">Sal ~28 (slope: 8.91)</text>
<path d="M1628.7 597.1H1703.2" stroke="#7aa8ff" stroke-width="7.70"/>
<text x="1708.0" y="608.7" font-size="30.00" fill="#000">Sal ~20 (slope: 10.30)</text>
</svg></body></html>
